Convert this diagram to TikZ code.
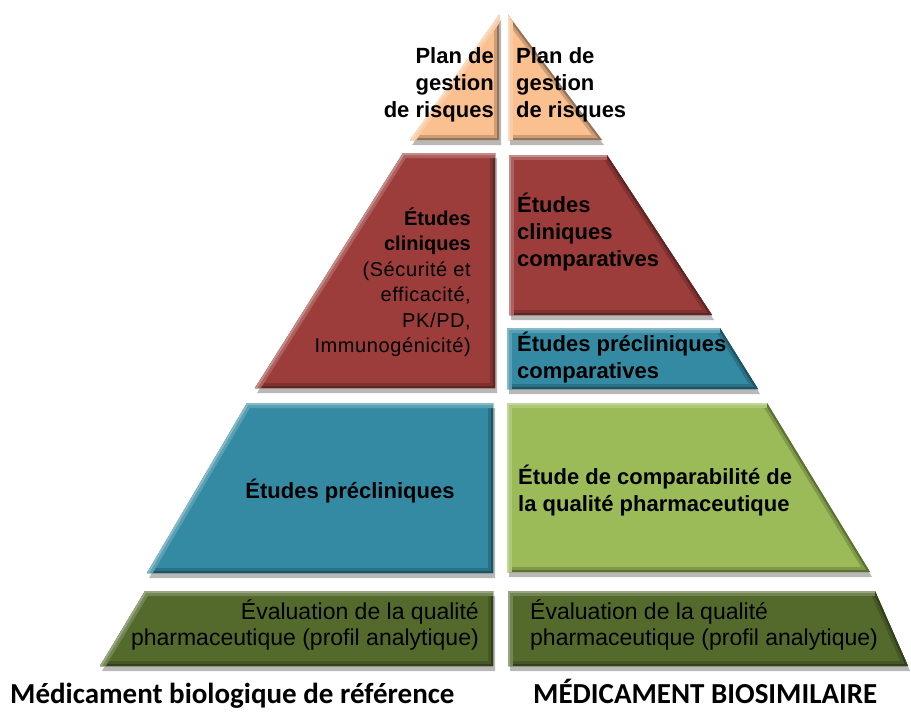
\documentclass[tikz,border=0pt]{standalone}
\usepackage{fontspec}
\setmainfont{Liberation Sans}
\newfontfamily\calibfont{Carlito}
\usepackage{tikz}

\definecolor{peach}{HTML}{FAC090}
\definecolor{brick}{HTML}{9C3D3B}
\definecolor{teal}{HTML}{358AA3}
\definecolor{lime}{HTML}{9BBB59}
\definecolor{olive}{HTML}{546A2C}

\tikzstyle{boxtext} = [inner sep=0pt, text=black, font=\bfseries\fontsize{22}{27}\selectfont]
\tikzstyle{smalltext} = [inner sep=0pt, text=black, font=\fontsize{23}{26}\selectfont]
\tikzstyle{caption} = [inner sep=0pt, text=black, font=\calibfont\bfseries\fontsize{29}{32}\selectfont]
\tikzstyle{shade} = [black, opacity=0.28]

% one bevelled piece of the pyramid: colour, then corners top-left, top-right, bottom-right, bottom-left
\newcommand{\pyrblock}[5]{%
    \fill[shade, shift={(2,5)}] #2 -- #3 -- #4 -- #5 -- cycle;
    \fill[#1] #2 -- #3 -- #4 -- #5 -- cycle;
    \begin{scope}
        \clip #2 -- #3 -- #4 -- #5 -- cycle;
        \draw[line width=10pt, line join=miter, #1!82!black] #3 -- #4 -- #5;
        \draw[line width=4pt, line join=miter, #1!60!black] #3 -- #4 -- #5;
        \draw[line width=10pt, line join=miter, #1!82!white] #5 -- #2 -- #3;
        \draw[line width=4pt, line join=miter, #1!60!white] #5 -- #2 -- #3;
    \end{scope}}

\begin{document}
\begin{tikzpicture}[x=1pt, y=-1pt]
    \useasboundingbox[fill=white] (0,0) rectangle (911,713);

    % left half : reference product
    \pyrblock{peach}{(499,15)}{(499,15)}{(499,140)}{(410,140)}
    \pyrblock{brick}{(403,153)}{(495,153)}{(495,388)}{(255,388)}
    \pyrblock{teal}{(247,403)}{(493,403)}{(493,573)}{(147,573)}
    \pyrblock{olive}{(145,591)}{(493,591)}{(493,666)}{(100,666)}

    % right half : biosimilar
    \pyrblock{peach}{(508,15)}{(508,15)}{(602,140)}{(508,140)}
    \pyrblock{brick}{(509,155)}{(607,155)}{(712,315)}{(509,315)}
    \pyrblock{teal}{(507,328)}{(720,328)}{(758,389)}{(507,389)}
    \pyrblock{lime}{(507,403)}{(767,403)}{(870,572)}{(507,572)}
    \pyrblock{olive}{(508,591)}{(875,591)}{(908,666)}{(508,666)}

    \node[boxtext, align=right, anchor=east] (riskref) at (494,85) {Plan de\\gestion\\de risques};
    \node[boxtext, align=left, anchor=west] (riskbio) at (516,85) {Plan de\\gestion\\de risques};

    \node[boxtext, align=right, anchor=east, font=\fontsize{20}{25.5}\selectfont] (clinref) at (471,282)
        {\textbf{Études}\\\textbf{cliniques}\\{\addfontfeature{LetterSpace=3}(Sécurité et}\\{\addfontfeature{LetterSpace=3}efficacité,}\\{\addfontfeature{LetterSpace=3}PK/PD,}\\{\addfontfeature{LetterSpace=3}Immunogénicité)}};
    \node[boxtext, align=left, anchor=west] (clinbio) at (517,232) {Études\\cliniques\\comparatives};

    \node[boxtext, align=left, anchor=west] (precbio) at (517,358) {Études précliniques\\comparatives};
    \node[boxtext] (precref) at (350,491) {Études précliniques};

    \node[boxtext, align=left, anchor=west] (compbio) at (518,491) {Étude de comparabilité de\\la qualité pharmaceutique};

    \node[smalltext, align=right, anchor=east] (qualref) at (479,625) {Évaluation de la qualité\\pharmaceutique (profil analytique)};
    \node[smalltext, align=left, anchor=west] (qualbio) at (530,625) {Évaluation de la qualité\\pharmaceutique (profil analytique)};

    \node[caption, anchor=base west] (nameref) at (10,703) {Médicament biologique de référence};
    \node[caption, anchor=base west] (namebio) at (533,703) {MÉDICAMENT BIOSIMILAIRE};
\end{tikzpicture}
\end{document}
